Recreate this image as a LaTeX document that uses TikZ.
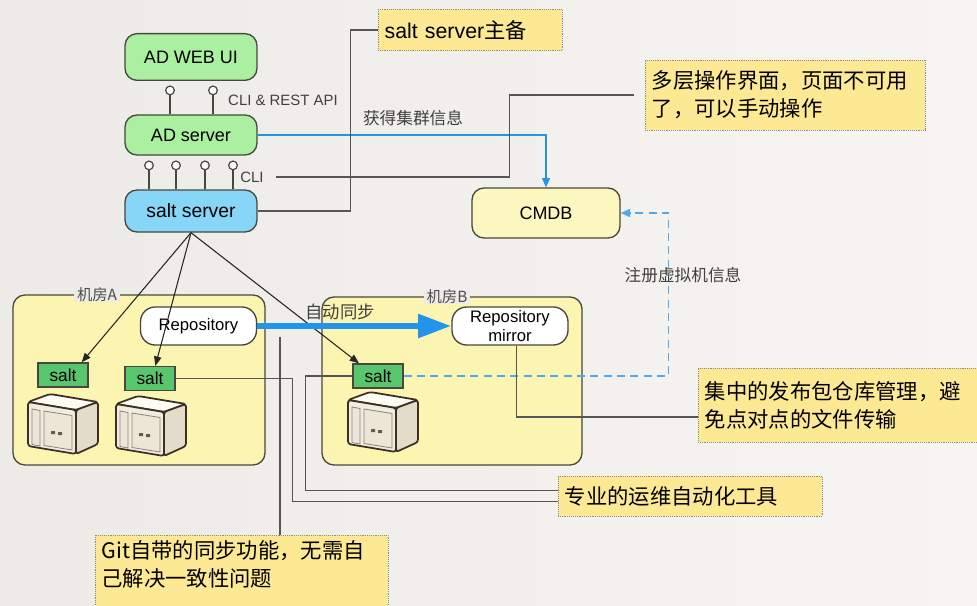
\documentclass[tikz,border=0pt]{standalone}
\usepackage{fontspec}
\setmainfont{Liberation Sans}
\newfontfamily\cjk{Noto Sans CJK SC}
\usetikzlibrary{arrows.meta}

\definecolor{paper}{RGB}{236,235,231}
\definecolor{paperlight}{RGB}{246,245,242}
\definecolor{uigreen}{RGB}{170,240,160}
\definecolor{saltblue}{RGB}{135,214,248}
\definecolor{cmdbyellow}{RGB}{251,247,190}
\definecolor{roomyellow}{RGB}{252,245,178}
\definecolor{noteyellow}{RGB}{253,233,148}
\definecolor{taggreen}{RGB}{88,198,108}
\definecolor{edge}{RGB}{72,70,62}
\definecolor{wire}{RGB}{85,85,85}
\definecolor{flowblue}{RGB}{35,148,235}
\definecolor{srvtop}{RGB}{252,251,246}
\definecolor{srvfront}{RGB}{242,236,222}
\definecolor{srvside}{RGB}{228,220,202}
\definecolor{srvline}{RGB}{60,48,36}

% little server tower, origin at its top left corner
\tikzset{
  server/.pic={
    \begin{scope}[draw=srvline,line width=1.3pt,line join=round,rounded corners=2pt]
      \filldraw[fill=srvtop] (0,12) -- (22,4) -- (70,12) -- (48,20) -- cycle;
      \filldraw[fill=srvfront] (0,12) -- (48,20) -- (48,64) -- (0,56) -- cycle;
      \filldraw[fill=srvside] (48,20) -- (70,12) -- (70,54) -- (48,64) -- cycle;
    \end{scope}
    \draw[srvline!60,line width=0.6pt,fill=srvside!70] (4,19) -- (12,20.5) -- (12,56) -- (4,54.5) -- cycle;
    \draw[srvline!60,line width=0.6pt,fill=srvfront!60!srvside] (16,21) -- (44,25.5) -- (44,60) -- (16,55.5) -- cycle;
    \fill[srvline!80] (23,41) rectangle (27,44) (30,42) rectangle (34,45);
  }
}

\begin{document}
\begin{tikzpicture}[x=0.75pt,y=-0.75pt,
  unit/.style={draw=edge,line width=1pt,rounded corners=9pt,inner sep=2pt,
    font=\fontsize{13.5}{16}\selectfont},
  room/.style={draw=edge,line width=1pt,rounded corners=9pt,fill=roomyellow},
  roomname/.style={fill=paper,inner xsep=2pt,inner ysep=0pt,text=black!70,
    font=\cjk\fontsize{11.5}{13}\selectfont},
  repobox/.style={unit,fill=white,rounded corners=11pt,minimum width=87pt,minimum height=28.5pt,
    align=center,font=\fontsize{12.5}{14}\selectfont},
  tag/.style={draw=edge,line width=1pt,fill=taggreen,minimum width=37.5pt,minimum height=18pt,
    inner sep=0pt,font=\fontsize{13}{15}\selectfont},
  note/.style={draw=black!45,densely dotted,fill=noteyellow,inner xsep=5pt,inner ysep=4pt,
    align=left,font=\cjk\fontsize{16}{21}\selectfont},
  pin/.style={circle,draw=edge,fill=white,line width=0.9pt,minimum size=6.5pt,inner sep=0pt},
  stem/.style={draw=edge,line width=1pt},
  lbl/.style={text=black!75,font=\cjk\fontsize{12.5}{15}\selectfont},
  apilbl/.style={text=black!75,font=\fontsize{11.2}{13}\selectfont},
  noteline/.style={draw=wire,line width=0.8pt},
  deploy/.style={draw=black!85,line width=0.8pt,-{Triangle[length=7pt,width=5.5pt]}},
  info/.style={draw=flowblue,line width=1.1pt,-{Triangle[length=7pt,width=6pt]}},
  reg/.style={draw=flowblue!80,line width=1.1pt,dash pattern=on 6pt off 4pt,-{Triangle[length=7pt,width=6pt]}},
  sync/.style={draw=flowblue,line width=5pt,-{Triangle[length=25pt,width=17pt]}}]

% backdrop
\useasboundingbox (0,0) rectangle (977,606);
\shade[left color=paper,right color=paperlight] (0,0) rectangle (977,606);

% management stack
\node[unit,fill=uigreen,minimum width=99pt,minimum height=35pt] (webui) at (191,57) {AD WEB UI};
\node[unit,fill=uigreen,minimum width=99pt,minimum height=30pt] (adsrv) at (191,135) {AD server};
\node[unit,fill=saltblue,minimum width=99pt,minimum height=31.5pt,font=\fontsize{14.5}{17}\selectfont] (saltsrv) at (191,211) {salt server};

% interfaces
\foreach \x in {170,213}
  \draw[stem] (adsrv.north -| \x,0) -- ++(0,-19) node[pin,anchor=south] (api\x) {};
\foreach \x in {149,176,205,233}
  \draw[stem] (saltsrv.north -| \x,0) -- ++(0,-19) node[pin,anchor=south] (cli\x) {};
\node[apilbl] (api) at (283,100) {CLI \& REST API};
\node[apilbl] (cli) at (252,177) {CLI};

\node[unit,fill=cmdbyellow,minimum width=111pt,minimum height=37.5pt] (cmdb) at (546,213) {CMDB};

% machine rooms
\node[room,minimum width=189pt,minimum height=127.5pt] (roomA) at (139,380) {};
\node[room,minimum width=195pt,minimum height=126pt] (roomB) at (452,381) {};
\node[roomname] (roomAname) at (97,295) {机房A};
\node[roomname] (roomBname) at (447,297) {机房B};

\node[repobox] (repo) at (198.5,326) {Repository};
\node[repobox,font=\fontsize{12.5}{14}\selectfont] (mirror) at (510,326) {Repository\\mirror};

% minions
\pic at (28,390) {server};
\pic at (116,392) {server};
\pic at (348,388) {server};
\node[tag] (saltA1) at (63,375) {salt};
\node[tag] (saltA2) at (150,378.5) {salt};
\node[tag] (saltB) at (378,376) {salt};

% flows
\draw[info] (adsrv.east) -| (cmdb.north);
\node[lbl] (infolbl) at (413,118) {获得集群信息};
\draw[deploy] (saltsrv.south) -- ([xshift=14pt]saltA1.north);
\draw[deploy] (saltsrv.south) -- ([xshift=4pt]saltA2.north);
\draw[deploy] (saltsrv.south) -- ([xshift=5pt]saltB.north west);
\draw[sync] (repo.east) -- (mirror.west);
\node[lbl,font=\cjk\fontsize{13}{15}\selectfont] (synclbl) at (340,312) {自动同步};
\draw[reg] (saltB.east) -- ++(265,0) |- (cmdb.east);
\node[lbl] (reglbl) at (683,275) {注册虚拟机信息};

% remarks
\node[note,text width=128pt,minimum height=31pt] (bak) at (470,30) {\fontsize{16}{19}\selectfont\rmfamily salt server{\cjk 主备}};
\node[note,text width=200pt,minimum height=52.5pt] (ops) at (785,95) {多层操作界面，页面不可用\\了，可以手动操作};
\node[note,text width=209pt,minimum height=55.5pt] (pub) at (844,405) {集中的发布包仓库管理，避\\免点对点的文件传输};
\node[note,text width=188pt,minimum height=30pt] (tool) at (690,496) {专业的运维自动化工具};
\node[note,text width=210pt,anchor=north] (git) at (241.5,535) {Git自带的同步功能，无需自\\己解决一致性问题\\ \strut};
\coordinate (repotap) at (280,337);

\draw[noteline] (saltsrv.east) -- ++(93,0) |- (bak.west);
\draw[noteline] (cli.east) ++(8,0) -- ++(233,0) |- ([xshift=-8pt]ops.west);
\draw[noteline] ([xshift=5pt]mirror.south) |- ([yshift=-9pt]pub.west);
\draw[noteline] (saltA2.east) -- ++(117,0) |- ([yshift=-4pt]tool.west);
\draw[noteline] (saltB.west) -- ++(-47,0) |- ([yshift=4pt]tool.west);
\draw[noteline] (repotap) -- (repotap |- git.north);
\end{tikzpicture}
\end{document}
